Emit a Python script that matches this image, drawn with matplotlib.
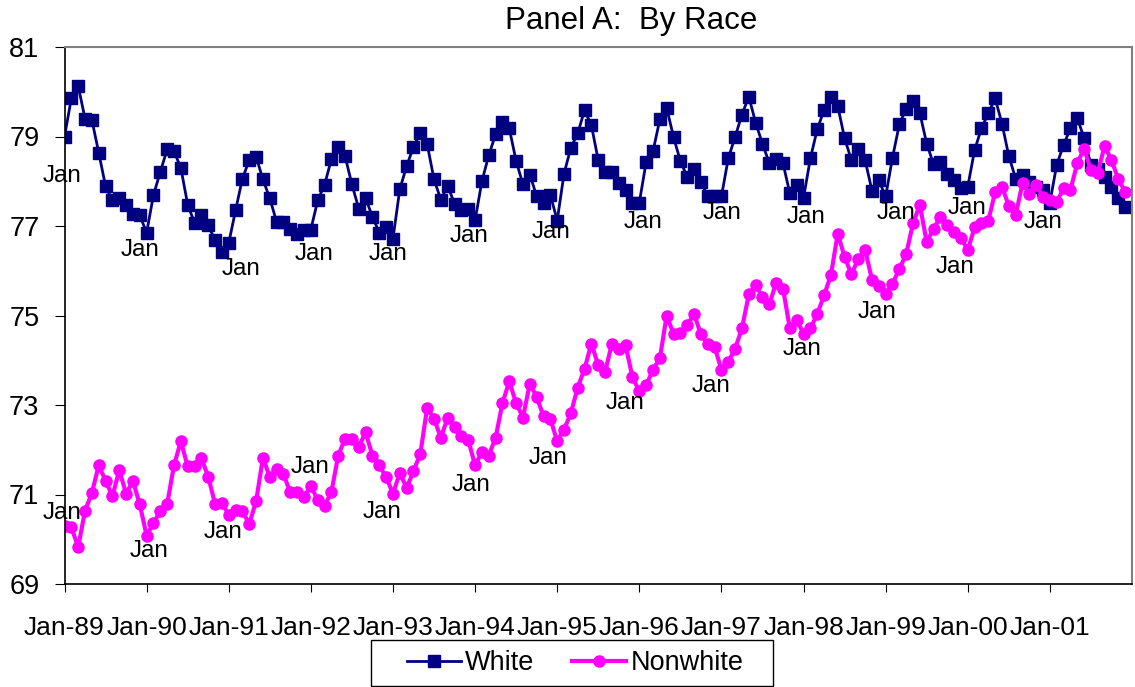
import matplotlib
matplotlib.use('Agg')
import matplotlib.pyplot as plt
from matplotlib.patches import Rectangle

plt.rcParams['font.family'] = ['Liberation Sans', 'DejaVu Sans']

# Valores mensuales, Jan-89 .. Dec-01
white = [
    79.00, 79.85, 80.13, 79.40, 79.37, 78.64, 77.89, 77.58, 77.63, 77.47, 77.26, 77.24,
    76.85, 77.69, 78.21, 78.71, 78.67, 78.30, 77.48, 77.07, 77.24, 77.02, 76.68, 76.42,
    76.62, 77.35, 78.06, 78.47, 78.55, 78.04, 77.62, 77.09, 77.09, 76.94, 76.83, 76.92,
    76.92, 77.57, 77.92, 78.49, 78.77, 78.56, 77.93, 77.39, 77.62, 77.21, 76.85, 76.98,
    76.72, 77.82, 78.34, 78.77, 79.08, 78.83, 78.04, 77.59, 77.89, 77.50, 77.35, 77.37,
    77.13, 78.00, 78.58, 79.05, 79.33, 79.18, 78.45, 77.93, 78.15, 77.67, 77.52, 77.70,
    77.12, 78.17, 78.75, 79.07, 79.59, 79.25, 78.47, 78.21, 78.21, 77.95, 77.80, 77.52,
    77.52, 78.43, 78.67, 79.38, 79.64, 78.99, 78.45, 78.10, 78.28, 77.99, 77.66, 77.66,
    77.66, 78.51, 78.99, 79.49, 79.89, 79.31, 78.83, 78.41, 78.49, 78.40, 77.73, 77.91,
    77.63, 78.51, 79.16, 79.59, 79.89, 79.68, 78.96, 78.47, 78.73, 78.47, 77.79, 78.02,
    77.66, 78.53, 79.27, 79.62, 79.80, 79.52, 78.84, 78.38, 78.43, 78.16, 78.02, 77.84,
    77.88, 78.70, 79.18, 79.52, 79.85, 79.29, 78.56, 78.06, 78.13, 77.99, 77.88, 77.80,
    77.52, 78.37, 78.81, 79.18, 79.42, 78.96, 78.37, 78.27, 78.10, 77.88, 77.62, 77.43,
]

nonwhite = [
    70.29, 70.27, 69.82, 70.64, 71.03, 71.65, 71.31, 70.96, 71.54, 71.02, 71.30, 70.78,
    70.08, 70.36, 70.63, 70.78, 71.65, 72.19, 71.63, 71.63, 71.81, 71.40, 70.79, 70.81,
    70.55, 70.66, 70.63, 70.34, 70.85, 71.82, 71.39, 71.57, 71.45, 71.05, 71.05, 70.94,
    71.20, 70.87, 70.75, 71.05, 71.87, 72.25, 72.25, 72.06, 72.39, 71.87, 71.65, 71.39,
    71.02, 71.48, 71.15, 71.52, 71.91, 72.94, 72.69, 72.27, 72.72, 72.51, 72.30, 72.22,
    71.65, 71.95, 71.87, 72.27, 73.04, 73.53, 73.04, 72.72, 73.48, 73.18, 72.75, 72.69,
    72.19, 72.45, 72.82, 73.39, 73.81, 74.37, 73.89, 73.74, 74.37, 74.26, 74.33, 73.62,
    73.31, 73.44, 73.79, 74.04, 75.00, 74.59, 74.62, 74.78, 75.04, 74.58, 74.36, 74.30,
    73.79, 73.96, 74.26, 74.71, 75.47, 75.68, 75.41, 75.25, 75.73, 75.60, 74.71, 74.91,
    74.59, 74.71, 75.03, 75.45, 75.90, 76.83, 76.31, 75.92, 76.27, 76.47, 75.80, 75.65,
    75.47, 75.71, 76.04, 76.37, 77.06, 77.47, 76.64, 76.94, 77.20, 77.02, 76.87, 76.74,
    76.46, 76.97, 77.06, 77.11, 77.76, 77.88, 77.45, 77.24, 77.96, 77.71, 77.91, 77.65,
    77.59, 77.54, 77.84, 77.80, 78.40, 78.73, 78.25, 78.19, 78.79, 78.47, 78.05, 77.76,
]

year_labels = ['Jan-89', 'Jan-90', 'Jan-91', 'Jan-92', 'Jan-93', 'Jan-94', 'Jan-95',
               'Jan-96', 'Jan-97', 'Jan-98', 'Jan-99', 'Jan-00', 'Jan-01']

# Desplazamiento (px) de cada etiqueta "Jan" respecto a su punto: (dx, dy hacia abajo)
white_jan_offsets = [(-2, 40), (-7, 17), (12, 26), (3, 24), (-5, 15), (-6, 16), (-6, 11),
                     (4, 19), (1, 17), (3, 19), (10, 17), (-1, 21), (-7, 19)]
nonwhite_jan_offsets = [(-2, -13), (2, 15), (-6, 17), (-1, -19), (-11, 18), (-4, 20),
                        (-9, 17), (-14, 12), (-10, 16), (-1, 15), (-9, 18), (-13, 17)]

months = list(range(len(white)))

fig = plt.figure(figsize=(11.35, 6.87), dpi=100)
ax = fig.add_axes([64.5 / 1135, 103 / 687, (1132 - 64.5) / 1135, 537 / 687])

ax.plot(months, white, color='#000080', linewidth=2, marker='s', markersize=9,
        label='White')
ax.plot(months, nonwhite, color='#FF00FF', linewidth=3, marker='o', markersize=8,
        label='Nonwhite')

# Etiquetas "Jan" en cada enero
for k, (dx, dy) in enumerate(white_jan_offsets):
    i = 12 * k
    ax.annotate('Jan', xy=(i, white[i]), xytext=(dx, -dy), textcoords='offset pixels',
                ha='center', va='center', fontsize=17.5)
for k, (dx, dy) in enumerate(nonwhite_jan_offsets):
    i = 12 * k
    ax.annotate('Jan', xy=(i, nonwhite[i]), xytext=(dx, -dy), textcoords='offset pixels',
                ha='center', va='center', fontsize=17.5)

ax.set_xlim(0, 156)
ax.set_ylim(69, 81)
ax.set_yticks(range(69, 82, 2))
ax.set_xticks(range(0, 12 * len(year_labels), 12))
ax.set_xticklabels(year_labels)
ax.tick_params(axis='y', length=7, pad=11, labelsize=19.5, direction='out')
ax.tick_params(axis='x', length=6, pad=17, labelsize=19, direction='out')

for side in ['left', 'bottom']:
    ax.spines[side].set_color('black')
    ax.spines[side].set_linewidth(1.2)
for side in ['top', 'right']:
    ax.spines[side].set_color('#808080')
    ax.spines[side].set_linewidth(1.5)

fig.text(631 / 1135, 1 - 21 / 687, 'Panel A:  By Race', ha='center', va='center',
         fontsize=22.5)

# Leyenda con marco rectangular al pie
fig.legend(loc='center', bbox_to_anchor=(575 / 1135, 1 - 663 / 687), ncol=2,
           frameon=False, fontsize=19.5, handlelength=2.0, handletextpad=0.15,
           columnspacing=1.4, borderpad=0.2)
fig.add_artist(Rectangle((371 / 1135, 1 / 687), 402 / 1135, 46 / 687,
                         transform=fig.transFigure, fill=False, edgecolor='black',
                         linewidth=1))

fig.savefig('out.png', dpi=100)
